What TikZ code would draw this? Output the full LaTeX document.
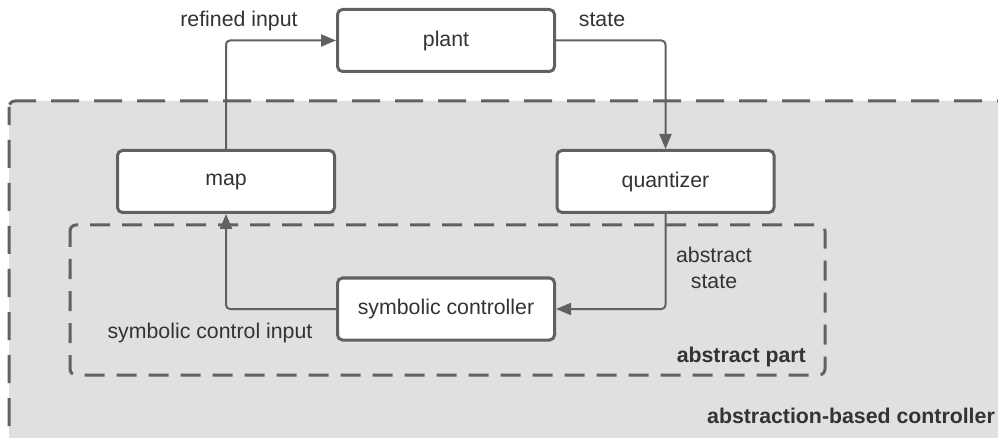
\documentclass[tikz,border=0pt]{standalone}
\usepackage{fontspec}
\setmainfont{Liberation Sans}
\usetikzlibrary{arrows.meta}
\definecolor{linegray}{HTML}{616161}
\definecolor{textgray}{HTML}{333333}
\definecolor{zonegray}{HTML}{E0E0E0}
\tikzset{
  every node/.style={text=textgray, font=\fontsize{21.3}{26}\selectfont},
  block/.style={draw=linegray, line width=3pt, fill=white, rounded corners=5pt,
    minimum width=217pt, minimum height=62pt, inner sep=0pt},
  conn/.style={draw=linegray, line width=2pt, rounded corners=4pt,
    -{Triangle[length=15pt, width=12pt]}},
  zone/.style={draw=linegray, line width=3pt, rounded corners=6pt},
  lbl/.style={inner sep=0pt, align=center},
}
\begin{document}
\begin{tikzpicture}[x=1pt, y=-1pt]
  \useasboundingbox (0,0) rectangle (998,438);
  \clip (0,0) rectangle (998,438);

  % controller region and the abstract part inside it
  \draw[zone, fill=zonegray, dash pattern=on 28pt off 15pt, dash phase=10pt]
    (9,101) rectangle (1020,460);
  \draw[zone, dash pattern=on 20pt off 12pt, dash phase=4pt]
    (70,225) rectangle (825,375);

  % blocks
  \node[block] (plant) at (446,40.5) {plant};
  \node[block] (map) at (226,181.5) {map};
  \node[block] (quant) at (665.5,181.5) {quantizer};
  \node[block] (sym) at (446,309) {symbolic controller};

  % signal flow
  \draw[conn] (map.north) |- (plant.west);
  \draw[conn] (plant.east) -| (quant.north);
  \draw[conn] (quant.south) |- (sym.east);
  \draw[conn] (sym.west) -| (map.south);

  % signal labels
  \node[lbl, anchor=base] (lref) at (239,27) {refined input};
  \node[lbl, anchor=base] (lstate) at (602,27) {state};
  \node[lbl, anchor=base] (labs) at (714,288) {abstract\\state};
  \node[lbl, anchor=base] (lsym) at (210,338) {symbolic control input};

  % region titles
  \node[lbl, anchor=base east, font=\fontsize{21.3}{26}\selectfont\bfseries] (tpart) at (806,362) {abstract part};
  \node[lbl, anchor=base east, font=\fontsize{21.3}{26}\selectfont\bfseries] (tctrl) at (995,423) {abstraction-based controller};
\end{tikzpicture}
\end{document}
